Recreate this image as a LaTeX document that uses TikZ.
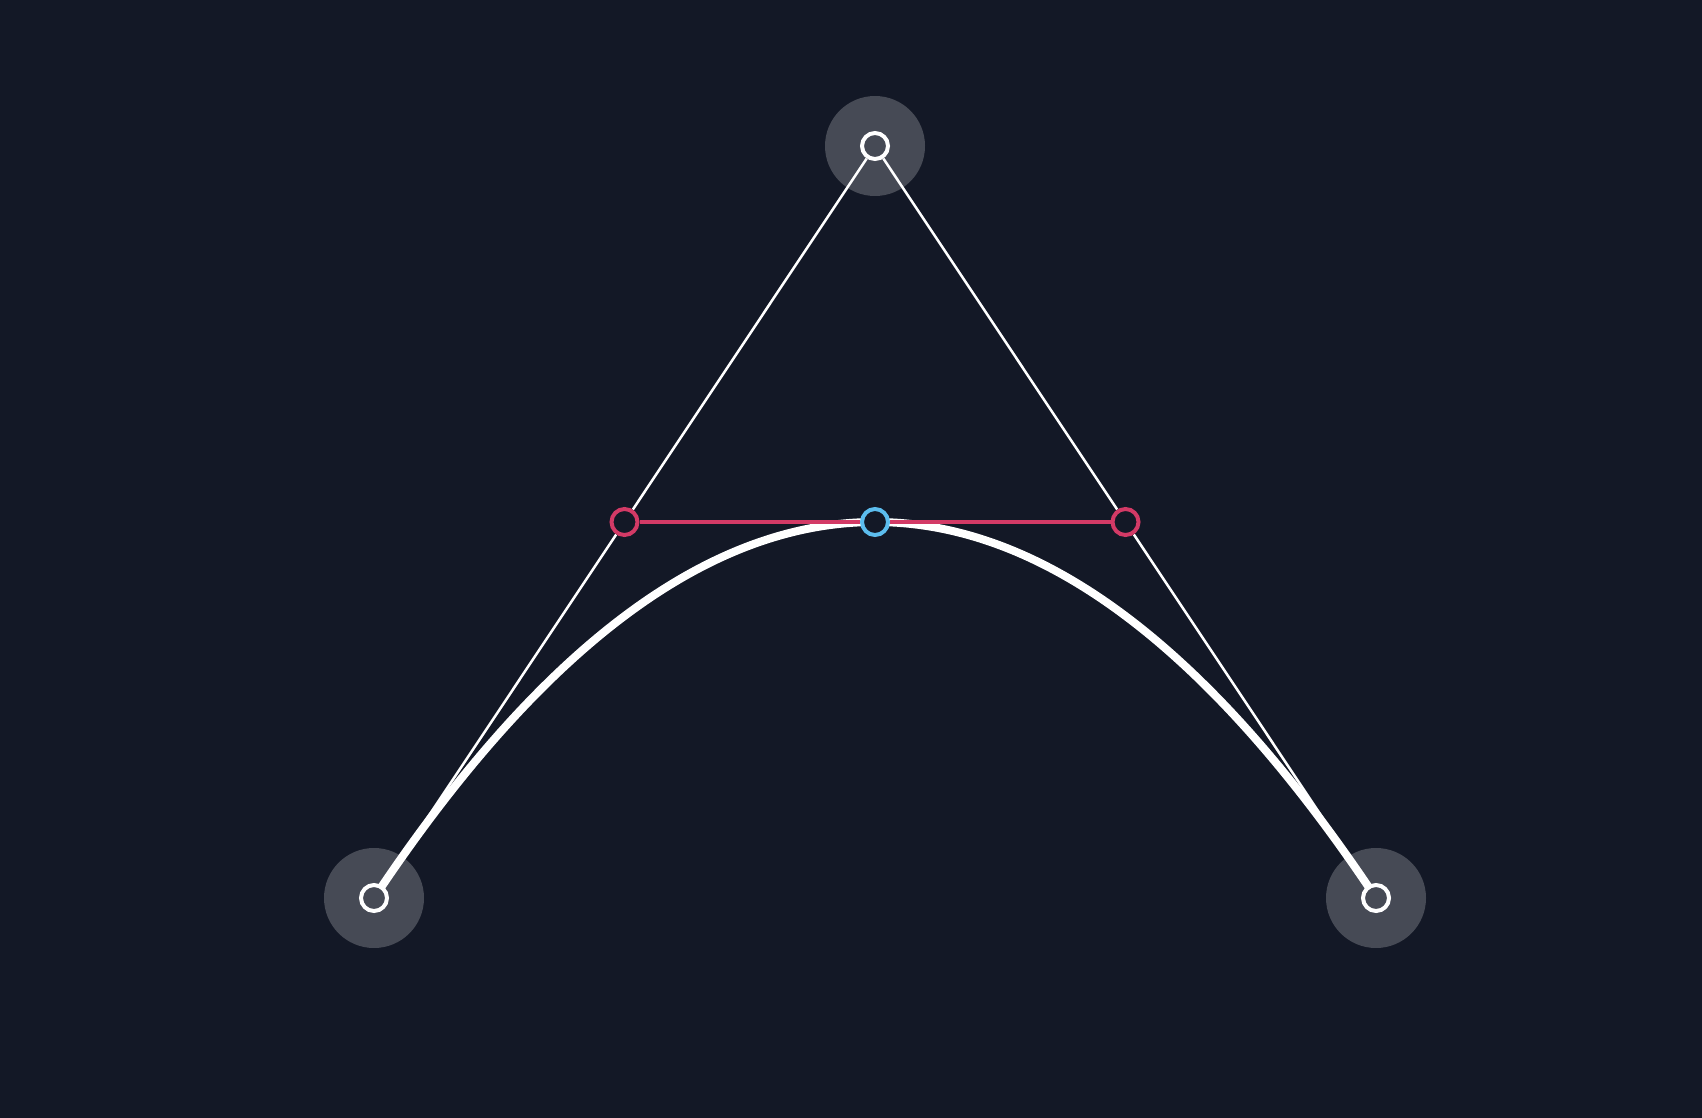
\documentclass[tikz,border=0pt]{standalone}
\usepackage{tikz}
\usetikzlibrary{calc,backgrounds}
\definecolor{bgdark}{HTML}{131826}
\definecolor{halogray}{HTML}{464A55}
\definecolor{splitred}{HTML}{D33A66}
\definecolor{midblue}{HTML}{5CBDEE}

\begin{document}
\begin{tikzpicture}[x=1pt, y=-1pt,
    halo/.style={circle, fill=halogray, minimum size=100pt, inner sep=0pt},
    endpt/.style={circle, draw=white, line width=4pt, fill=halogray, minimum size=26pt, inner sep=0pt},
    midpt/.style={circle, line width=4pt, fill=bgdark, minimum size=26pt, inner sep=0pt},
    ctrl/.style={white, line width=2.5pt},
    curve/.style={white, line width=8pt}
]
\node[endpt] (p0) at (374,898) {};
\node[endpt] (p1) at (875,146) {};
\node[endpt] (p2) at (1376,898) {};
\node[midpt, draw=splitred] (q0) at (624.5,522) {};
\node[midpt, draw=splitred] (q1) at (1125.5,522) {};
\node[midpt, draw=midblue] (b) at (875,522) {};

\begin{scope}[on background layer]
\fill[bgdark] (0,0) rectangle (1702,1118);
\node[halo] (h0) at (p0) {};
\node[halo] (h1) at (p1) {};
\node[halo] (h2) at (p2) {};
\draw[ctrl] (p0) -- (q0);
\draw[ctrl] (q0) -- (p1);
\draw[ctrl] (p1) -- (q1);
\draw[ctrl] (q1) -- (p2);
\draw[curve] (p0.center) .. controls ($(p0.center)!2/3!(p1.center)$) and ($(p2.center)!2/3!(p1.center)$) .. (p2.center);
\draw[splitred, line width=4.5pt] (q0) -- (b);
\draw[splitred, line width=4.5pt] (b) -- (q1);
\end{scope}
\end{tikzpicture}
\end{document}
